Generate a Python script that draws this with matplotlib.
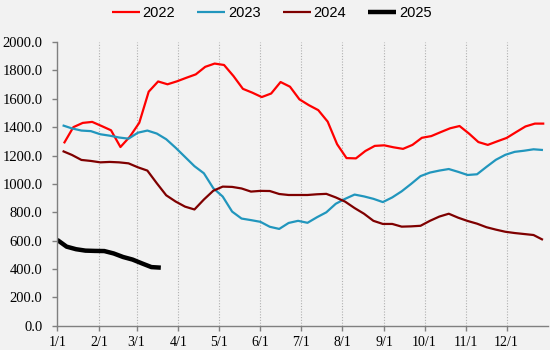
import matplotlib.pyplot as plt
import numpy as np

# valores semanais por ano (dia do ano do primeiro ponto + passo de 7 dias)
anos = ['2022', '2023', '2024', '2025']
inicio = {'2022': 5, '2023': 4, '2024': 4, '2025': 0}

v2022 = [1286, 1400, 1430, 1437, 1408, 1378, 1260, 1333, 1431, 1650,
         1722, 1702, 1723, 1748, 1772, 1825, 1848, 1838, 1760, 1670,
         1643, 1612, 1637, 1718, 1685, 1596, 1555, 1520, 1439, 1280,
         1182, 1180, 1232, 1268, 1272, 1258, 1247, 1275, 1325, 1337,
         1365, 1392, 1408, 1355, 1295, 1275, 1300, 1324, 1365, 1405,
         1425, 1425]
v2023 = [1413, 1391, 1376, 1372, 1350, 1340, 1327, 1319, 1361, 1376,
         1355, 1315, 1255, 1190, 1125, 1075, 970, 911, 805, 756,
         745, 733, 698, 683, 725, 740, 726, 765, 800, 860,
         895, 925, 912, 895, 872, 905, 948, 1000, 1055, 1080,
         1094, 1105, 1085, 1063, 1068, 1120, 1170, 1205, 1226, 1234,
         1244, 1239]
v2024 = [1232, 1204, 1169, 1162, 1152, 1155, 1152, 1145, 1117, 1094,
         1005, 920, 876, 840, 820, 890, 952, 981, 979, 968,
         946, 951, 950, 929, 922, 922, 922, 927, 930, 905,
         875, 830, 790, 740, 718, 718, 699, 701, 705, 740,
         770, 790, 762, 739, 720, 695, 678, 663, 654, 647,
         640, 606]
v2025 = [606, 558, 540, 530, 528, 527, 510, 485, 467, 440, 414, 410]

meses_dia = [0, 31, 59, 90, 120, 151, 181, 212, 243, 273, 304, 334]
meses_rotulo = ['1/1', '2/1', '3/1', '4/1', '5/1', '6/1', '7/1', '8/1',
                '9/1', '10/1', '11/1', '12/1']

series = {'2022': v2022, '2023': v2023, '2024': v2024, '2025': v2025}
cores = {'2022': '#ff0000', '2023': '#2196bd', '2024': '#7f0000', '2025': '#000000'}
larguras = {'2022': 1.6, '2023': 1.6, '2024': 1.6, '2025': 3.2}

fundo = '#f2f2f2'
fig = plt.figure(figsize=(5.5, 3.5), dpi=100, facecolor=fundo)
ax = fig.add_axes([0.104, 0.069, 0.893, 0.811], facecolor=fundo)

for d in meses_dia[1:]:
    ax.axvline(d, color='#b0b0b0', linestyle=(0, (1, 1.5)), linewidth=0.8, zorder=0)

for ano in anos:
    vals = series[ano]
    x = inicio[ano] + 7 * np.arange(len(vals))
    ax.plot(x, vals, color=cores[ano], linewidth=larguras[ano], label=ano,
            solid_capstyle='butt')

ax.set_xlim(0, 365)
ax.set_ylim(0, 2000)
ax.set_yticks(np.arange(0, 2001, 200))
ax.set_yticklabels([f'{v:.1f}' for v in np.arange(0, 2001, 200)])
ax.set_xticks(meses_dia)
ax.set_xticklabels(meses_rotulo)

for lado in ['top', 'right']:
    ax.spines[lado].set_visible(False)
for lado in ['left', 'bottom']:
    ax.spines[lado].set_color('#808080')
    ax.spines[lado].set_linewidth(1.0)
ax.tick_params(axis='y', color='#808080', length=3.6, width=1.0,
               labelsize=10.5, pad=7)
ax.tick_params(axis='x', color='#808080', length=3.6, width=1.0,
               labelsize=10, pad=4)
for lbl in ax.get_xticklabels() + ax.get_yticklabels():
    lbl.set_family('Liberation Serif')

fig.legend(loc='upper center', bbox_to_anchor=(0.494, 1.02), ncol=4, frameon=False,
           prop={'family': 'Liberation Sans', 'size': 10.5},
           handlelength=1.92, handletextpad=0.2, columnspacing=1.5)

fig.savefig('out.png', dpi=100, facecolor=fundo)
